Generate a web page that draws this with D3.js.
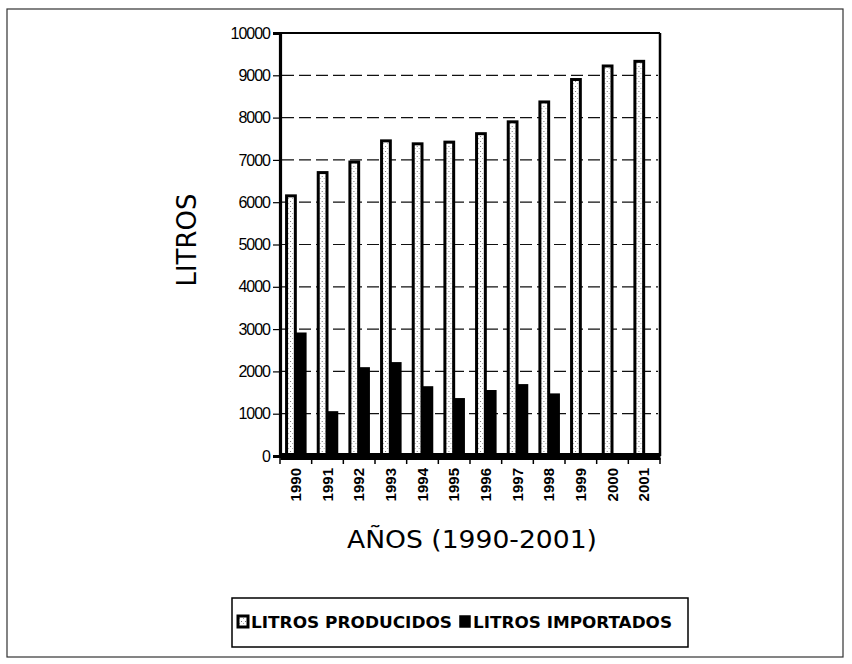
<!DOCTYPE html>
<html>
<head>
<meta charset="utf-8">
<script src="https://cdn.jsdelivr.net/npm/d3@7/dist/d3.min.js"></script>
<style>
  html, body { margin: 0; padding: 0; background: #fff; }
  svg { display: block; }
</style>
</head>
<body>
<svg id="chart" width="852" height="664"></svg>
<script>
// Litros producidos e importados por año
const years = ["1990", "1991", "1992", "1993", "1994", "1995", "1996", "1997", "1998", "1999", "2000", "2001"];
const producidos = [6150, 6700, 6950, 7450, 7380, 7420, 7620, 7900, 8370, 8900, 9220, 9330];
const importados = [2920, 1060, 2100, 2220, 1650, 1370, 1560, 1700, 1480, 0, 0, 0];
const yTicks = [0, 1000, 2000, 3000, 4000, 5000, 6000, 7000, 8000, 9000, 10000];
const seriesNames = ["LITROS PRODUCIDOS", "LITROS IMPORTADOS"];

const svg = d3.select("#chart");
const font = "'DejaVu Sans', sans-serif";

// marco exterior
svg.append("rect")
  .attr("x", 7).attr("y", 9).attr("width", 836).attr("height", 648)
  .attr("fill", "none").attr("stroke", "#333").attr("stroke-width", 1.2);

// relleno punteado de las barras de producción
const defs = svg.append("defs");
const pat = defs.append("pattern")
  .attr("id", "dots").attr("width", 4).attr("height", 5)
  .attr("patternUnits", "userSpaceOnUse");
pat.append("rect").attr("width", 4).attr("height", 5).attr("fill", "#fff");
pat.append("rect").attr("x", 1).attr("y", 1).attr("width", 1).attr("height", 1).attr("fill", "#777");
pat.append("rect").attr("x", 3).attr("y", 3).attr("width", 1).attr("height", 1).attr("fill", "#aaa");

const plotLeft = 280, plotRight = 660, plotTop = 33, plotBottom = 456;

const x0 = d3.scaleBand().domain(years).range([plotLeft, plotRight]).paddingInner(0.32).paddingOuter(0.16);
const x1 = d3.scaleBand().domain([0, 1]).range([0, x0.bandwidth()]);
const xTickScale = d3.scaleBand().domain(years).range([plotLeft, plotRight]);
const y = d3.scaleLinear().domain([0, 10000]).range([plotBottom, plotTop]);

// líneas de cuadrícula
const g = svg.append("g");
g.selectAll("line.grid")
  .data(yTicks.filter(t => t > 0 && t < 10000))
  .join("line")
  .attr("class", "grid")
  .attr("x1", plotLeft + 2).attr("x2", plotRight - 2)
  .attr("y1", d => y(d)).attr("y2", d => y(d))
  .attr("stroke", "#111").attr("stroke-width", 1.2)
  .attr("stroke-dasharray", "12,5");

// barras
const rows = years.map((yr, i) => ({ yr, p: producidos[i], m: importados[i] }));
const grp = g.selectAll("g.year").data(rows).join("g")
  .attr("class", "year")
  .attr("transform", d => `translate(${x0(d.yr)},0)`);

grp.append("rect")
  .attr("x", x1(0) + 1.5)
  .attr("y", d => y(d.p))
  .attr("width", x1.bandwidth() - 2)
  .attr("height", d => plotBottom - y(d.p))
  .attr("fill", "url(#dots)")
  .attr("stroke", "#000").attr("stroke-width", 3);

grp.filter(d => d.m > 0).append("rect")
  .attr("x", x1(1))
  .attr("y", d => y(d.m))
  .attr("width", x1.bandwidth())
  .attr("height", d => plotBottom - y(d.m))
  .attr("fill", "#000");

// marco del área de trazado
g.append("line").attr("x1", plotLeft).attr("x2", plotRight).attr("y1", plotTop).attr("y2", plotTop)
  .attr("stroke", "#000").attr("stroke-width", 2);
g.append("line").attr("x1", plotRight).attr("x2", plotRight).attr("y1", plotTop).attr("y2", plotBottom)
  .attr("stroke", "#000").attr("stroke-width", 2.5);

// eje Y
const yAxis = d3.axisLeft(y).tickValues(yTicks).tickSize(7).tickPadding(3).tickFormat(d3.format("d"));
const ya = svg.append("g").attr("transform", `translate(${plotLeft},0)`).call(yAxis);
ya.select(".domain").attr("stroke", "#000").attr("stroke-width", 3.2);
ya.selectAll(".tick line").attr("stroke", "#000").attr("stroke-width", 1.2);
ya.selectAll(".tick text")
  .attr("font-family", "'Liberation Sans', sans-serif")
  .attr("font-size", 16).attr("letter-spacing", "-1px")
  .attr("fill", "#000");

// eje X
const xa = svg.append("g").attr("transform", `translate(0,${plotBottom})`)
  .call(d3.axisBottom(xTickScale).tickSize(0).tickFormat(""));
xa.select(".domain").attr("stroke", "#000").attr("stroke-width", 7);
svg.append("g").selectAll("line")
  .data(years.concat(["end"]))
  .join("line")
  .attr("x1", (d, i) => plotLeft + i * xTickScale.step())
  .attr("x2", (d, i) => plotLeft + i * xTickScale.step())
  .attr("y1", plotBottom + 2).attr("y2", plotBottom + 8)
  .attr("stroke", "#000").attr("stroke-width", 1.5);

svg.append("g").selectAll("text")
  .data(years)
  .join("text")
  .attr("transform", d => `translate(${xTickScale(d) + xTickScale.bandwidth() / 2},468) rotate(-90)`)
  .attr("text-anchor", "end")
  .attr("dy", "0.35em")
  .attr("font-family", "'Liberation Sans', sans-serif")
  .attr("font-weight", "bold")
  .attr("font-size", 15)
  .attr("fill", "#000")
  .text(d => d);

// títulos de ejes
svg.append("text")
  .attr("transform", "translate(196,240) rotate(-90)")
  .attr("text-anchor", "middle")
  .attr("font-family", font).attr("font-size", 26)
  .attr("fill", "#000")
  .text("LITROS");

svg.append("text")
  .attr("x", 347).attr("y", 548)
  .attr("textLength", 250).attr("lengthAdjust", "spacingAndGlyphs")
  .attr("font-family", font).attr("font-size", 25)
  .attr("fill", "#000")
  .text("AÑOS (1990-2001)");

// leyenda
const leg = svg.append("g");
leg.append("rect")
  .attr("x", 232).attr("y", 598).attr("width", 456).attr("height", 49)
  .attr("fill", "#fff").attr("stroke", "#000").attr("stroke-width", 1.5);

const legItems = [
  { name: seriesNames[0], sx: 238, tx: 251, tw: 201, fill: "url(#dots)", sw: 3 },
  { name: seriesNames[1], sx: 460, tx: 473, tw: 199, fill: "#000", sw: 1.5 }
];
legItems.forEach(it => {
  leg.append("rect")
    .attr("x", it.sx).attr("y", 616).attr("width", 10).attr("height", 11)
    .attr("fill", it.fill).attr("stroke", "#000").attr("stroke-width", it.sw);
  leg.append("text")
    .attr("x", it.tx).attr("y", 628)
    .attr("textLength", it.tw).attr("lengthAdjust", "spacingAndGlyphs")
    .attr("font-family", font).attr("font-size", 16).attr("font-weight", "bold")
    .attr("fill", "#000")
    .text(it.name);
});
</script>
</body>
</html>
